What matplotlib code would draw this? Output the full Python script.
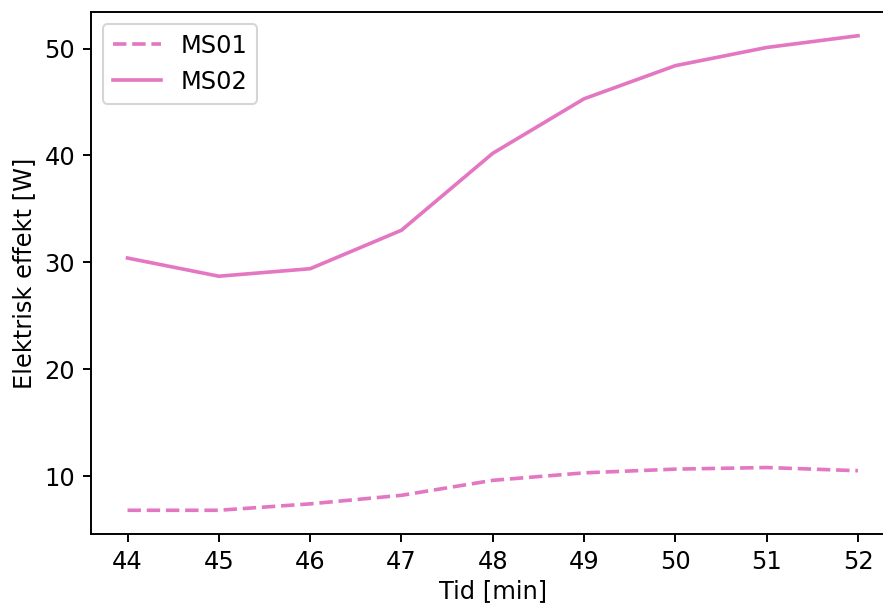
import matplotlib.pyplot as plt
import numpy as np

tid = [44, 45, 46, 47, 48, 49, 50, 51, 52]
ms01 = [6.8, 6.8, 7.4, 8.2, 9.6, 10.3, 10.65, 10.8, 10.5]
ms02 = [30.4, 28.7, 29.4, 33.0, 40.2, 45.3, 48.4, 50.1, 51.2]

s = 1.16
plt.rcParams['font.size'] = 10 * s
plt.rcParams['lines.linewidth'] = 1.5 * s
plt.rcParams['axes.linewidth'] = 0.8 * s
plt.rcParams['xtick.major.size'] = 3.5 * s
plt.rcParams['ytick.major.size'] = 3.5 * s
plt.rcParams['xtick.major.width'] = 0.8 * s
plt.rcParams['ytick.major.width'] = 0.8 * s

fig = plt.figure(figsize=(883/150, 604/150), dpi=150)
# right spine is cut off in the reference, so the axes runs past the figure edge
ax = fig.add_axes([91/883, 1 - 534/604, (894.5 - 91)/883, (534 - 12)/604])
ax.plot(tid, ms01, '--', color='tab:pink', label='MS01')
ax.plot(tid, ms02, '-', color='tab:pink', label='MS02')
ax.set_xlabel('Tid [min]', labelpad=2.5)
ax.set_ylabel('Elektrisk effekt [W]')
ax.legend(loc='upper left')
fig.savefig('out.png', dpi=150)
